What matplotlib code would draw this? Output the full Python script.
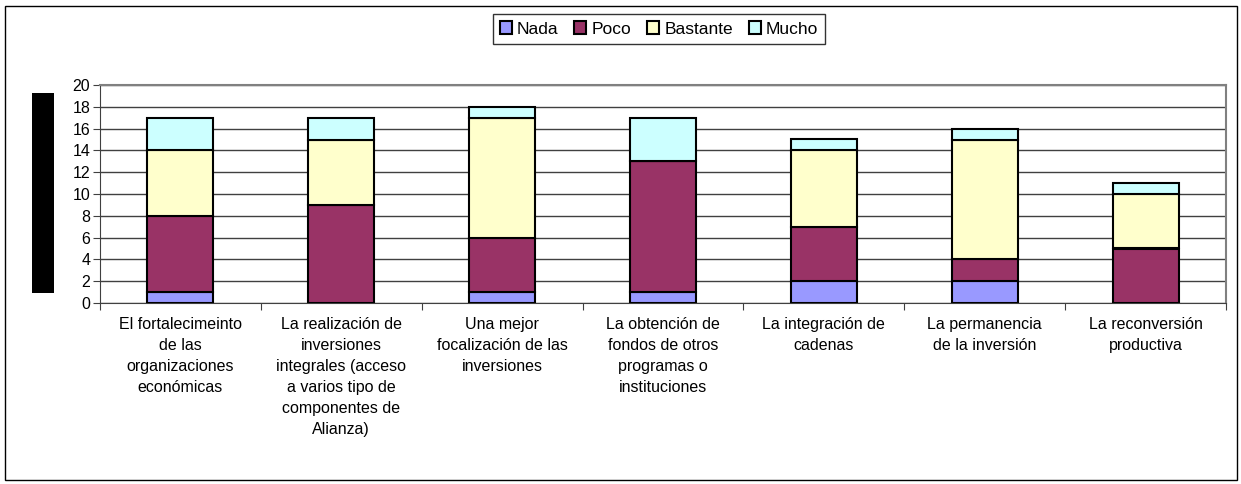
import matplotlib
matplotlib.use('Agg')
import matplotlib.pyplot as plt
from matplotlib.patches import Rectangle
import numpy as np

plt.rcParams['font.family'] = ['Liberation Sans', 'DejaVu Sans']

categories = [
    'El fortalecimeinto\nde las\norganizaciones\neconómicas',
    'La realización de\ninversiones\nintegrales (acceso\na varios tipo de\ncomponentes de\nAlianza)',
    'Una mejor\nfocalización de las\ninversiones',
    'La obtención de\nfondos de otros\nprogramas o\ninstituciones',
    'La integración de\ncadenas',
    'La permanencia\nde la inversión',
    'La reconversión\nproductiva',
]
series_names = ['Nada', 'Poco', 'Bastante', 'Mucho']
nada = [1, 0, 1, 1, 2, 2, 0]
poco = [7, 9, 5, 12, 5, 2, 5]
bastante = [6, 6, 11, 0, 7, 11, 5]
mucho = [3, 2, 1, 4, 1, 1, 1]
yticks = list(range(0, 21, 2))

colors = ['#9999FF', '#993366', '#FFFFCC', '#CCFFFF']

W, H = 1241, 484
fig = plt.figure(figsize=(W / 100, H / 100), dpi=100)
ax = fig.add_axes([100 / W, 1 - 303 / H, 1126 / W, 218 / H])

# outer chart border
fig.patches.append(Rectangle((5 / W, 4 / H), 1232 / W, 474 / H, transform=fig.transFigure,
                             fill=False, edgecolor='black', linewidth=1.0))
# redacted axis title block
fig.patches.append(Rectangle((32 / W, 1 - 293 / H), 22 / W, 200 / H, transform=fig.transFigure,
                             facecolor='black', edgecolor='none'))

x = np.arange(len(categories))
bottom = np.zeros(len(categories))
for name, vals, c in zip(series_names, [nada, poco, bastante, mucho], colors):
    ax.bar(x, vals, width=0.41, bottom=bottom, color=c, edgecolor='black',
           linewidth=1.5, label=name, zorder=3)
    bottom += np.array(vals)

ax.set_xlim(-0.5, len(categories) - 0.5)
ax.set_ylim(0, 20)
ax.set_yticks(yticks)
ax.yaxis.grid(True, color='#404040', linewidth=1.0, zorder=0)
ax.set_xticks(np.arange(-0.5, len(categories), 1), minor=False)
ax.set_xticklabels([])
ax.set_xticks(x, minor=True)
ax.set_xticklabels(categories, minor=True, fontsize=11.5, linespacing=1.5)
ax.tick_params(axis='x', which='minor', length=0, pad=10)
ax.tick_params(axis='x', which='major', length=5, direction='out', color='#404040')
ax.tick_params(axis='y', length=5, direction='out', color='#404040', labelsize=11.5, pad=2)

for s in ['top', 'right']:
    ax.spines[s].set_color('#808080')
    ax.spines[s].set_linewidth(1.5)
for s in ['left', 'bottom']:
    ax.spines[s].set_color('#404040')

leg = fig.legend(loc='center', bbox_to_anchor=(659 / W, 1 - 29 / H), ncol=4,
                 frameon=True, fancybox=False, edgecolor='black', fontsize=12.5,
                 handlelength=0.7, handleheight=0.7, handletextpad=0.3,
                 columnspacing=0.9, borderpad=0.4)
leg.get_frame().set_linewidth(1.0)

plt.savefig('out.png', dpi=100)
plt.close()
